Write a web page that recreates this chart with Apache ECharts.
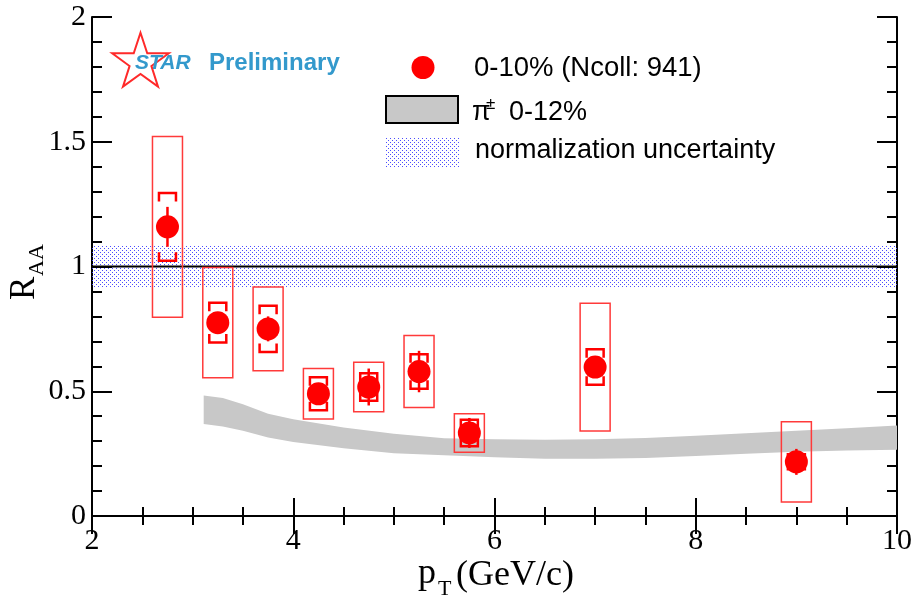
<!DOCTYPE html>
<html>
<head>
<meta charset="utf-8">
<title>RAA vs pT</title>
<script src="https://cdn.jsdelivr.net/npm/echarts@6.0.0/dist/echarts.min.js"></script>
<style>
  html, body { margin: 0; padding: 0; background: #ffffff; }
  #chart { width: 920px; height: 601px; }
</style>
</head>
<body>
<div id="chart"></div>
<script>
// Axis ticks
const xTicks = [2, 4, 6, 8, 10];
const yTicks = [0, 0.5, 1, 1.5, 2];

// 0-10% central collisions: R_AA per pT bin
const pt      = [2.75, 3.25, 3.75, 4.25, 4.75, 5.25, 5.75, 7.0, 9.0];
const raa     = [1.159, 0.775, 0.750, 0.490, 0.517, 0.579, 0.333, 0.597, 0.217];
const statErr = [0.080, 0.040, 0.050, 0.040, 0.074, 0.083, 0.060, 0.040, 0.052];
const sysErr  = [0.136, 0.080, 0.093, 0.066, 0.055, 0.069, 0.053, 0.071, 0.030];
const boxErr  = [0.362, 0.221, 0.168, 0.101, 0.099, 0.144, 0.077, 0.256, 0.161];

// Charged pion band, 0-12%
const pionPt   = [3.11, 3.3, 3.5, 3.75, 4.0, 4.5, 5.0, 5.5, 6.0, 6.5, 7.0, 7.5, 8.0, 8.5, 9.0, 9.5, 10.0];
const pionHigh = [0.483, 0.473, 0.448, 0.410, 0.388, 0.355, 0.330, 0.312, 0.308, 0.306, 0.308, 0.313, 0.322, 0.332, 0.342, 0.352, 0.363];
const pionLow  = [0.369, 0.359, 0.342, 0.315, 0.297, 0.272, 0.252, 0.243, 0.235, 0.229, 0.229, 0.232, 0.240, 0.250, 0.258, 0.263, 0.266];

// Normalization uncertainty around unity
const normLow  = 0.915;
const normHigh = 1.082;
const unity    = 1;

// Dotted fill used for the normalization band
function dotPattern() {
  const c = document.createElement('canvas');
  c.width = 4; c.height = 4;
  const g = c.getContext('2d');
  g.fillStyle = '#4c4cff';
  g.fillRect(0, 0, 1, 1);
  g.fillRect(2, 2, 1, 1);
  return { image: c, repeat: 'repeat' };
}
const dots = dotPattern();

const RED = '#ff0000';
const BOX_RED = '#ff3a3a';
const SERIF = '"Liberation Serif", "Times New Roman", serif';
const SANS = '"Liberation Sans", Arial, sans-serif';

const chart = echarts.init(document.getElementById('chart'), null, { renderer: 'canvas' });

const axisCommon = {
  axisLine: { show: true, lineStyle: { color: '#000', width: 2 } },
  splitLine: { show: false },
  minorSplitLine: { show: false }
};

function xAxisDef(pos, labels) {
  return Object.assign({
    type: 'value', position: pos,
    min: xTicks[0], max: xTicks[xTicks.length - 1], interval: xTicks[1] - xTicks[0],
    axisTick: { show: true, inside: true, length: 18, lineStyle: { color: '#000', width: 2 } },
    minorTick: { show: true, splitNumber: 4, length: 9, lineStyle: { color: '#000', width: 2 } },
    axisLabel: { show: labels, margin: 10, color: '#000', fontFamily: SERIF, fontSize: 30 }
  }, axisCommon);
}
function yAxisDef(pos, labels) {
  return Object.assign({
    type: 'value', position: pos,
    min: yTicks[0], max: yTicks[yTicks.length - 1], interval: yTicks[1] - yTicks[0],
    axisTick: { show: true, inside: true, length: 20, lineStyle: { color: '#000', width: 2 } },
    minorTick: { show: true, splitNumber: 5, length: 10, lineStyle: { color: '#000', width: 2 } },
    axisLabel: { show: labels, margin: 6, color: '#000', fontFamily: SERIF, fontSize: 30 }
  }, axisCommon);
}

// Five-pointed outline star for the logo
function starPoints(cx, cy, rOut, rIn) {
  const pts = [];
  for (let k = 0; k < 10; k++) {
    const r = k % 2 === 0 ? rOut : rIn;
    const a = -Math.PI / 2 + k * Math.PI / 5;
    pts.push([cx + r * Math.cos(a), cy + r * Math.sin(a)]);
  }
  return pts;
}

const option = {
  animation: false,
  backgroundColor: '#ffffff',
  grid: { left: 92, top: 17, right: 23, bottom: 85, outerBoundsMode: 'none' },
  xAxis: [xAxisDef('bottom', true), xAxisDef('top', false)],
  yAxis: [yAxisDef('left', true), yAxisDef('right', false)],
  series: [
    {
      // normalization band
      type: 'custom', name: 'normalization uncertainty', z: 1, clip: true,
      data: [[xTicks[0], normLow, xTicks[xTicks.length - 1], normHigh]],
      renderItem: function (params, api) {
        const p0 = api.coord([api.value(0), api.value(3)]);
        const p1 = api.coord([api.value(2), api.value(1)]);
        return {
          type: 'rect',
          shape: { x: p0[0], y: p0[1], width: p1[0] - p0[0], height: p1[1] - p0[1] },
          style: { fill: dots }
        };
      }
    },
    {
      // line at unity
      type: 'custom', name: 'unity', z: 2, clip: true,
      data: [[xTicks[0], unity, xTicks[xTicks.length - 1]]],
      renderItem: function (params, api) {
        const a = api.coord([api.value(0), api.value(1)]);
        const b = api.coord([api.value(2), api.value(1)]);
        return {
          type: 'line',
          shape: { x1: a[0], y1: a[1], x2: b[0], y2: b[1] },
          style: { stroke: '#000', lineWidth: 2 }
        };
      }
    },
    {
      // pion band
      type: 'custom', name: 'π± 0-12%', z: 3, clip: true,
      data: pionPt.map((x, i) => [x, pionLow[i], pionHigh[i]]),
      renderItem: function (params, api) {
        if (params.dataIndex !== 0) return null;
        const pts = [];
        for (let i = 0; i < pionPt.length; i++) pts.push(api.coord([pionPt[i], pionHigh[i]]));
        for (let i = pionPt.length - 1; i >= 0; i--) pts.push(api.coord([pionPt[i], pionLow[i]]));
        return { type: 'polygon', shape: { points: pts }, style: { fill: '#c8c8c8' } };
      }
    },
    {
      // uncertainty boxes, brackets and statistical bars
      type: 'custom', name: 'errors', z: 4, clip: true,
      data: pt.map((x, i) => [x, raa[i], statErr[i], sysErr[i], boxErr[i]]),
      renderItem: function (params, api) {
        const x = api.value(0), y = api.value(1);
        const st = api.value(2), sy = api.value(3), bx = api.value(4);
        const c = api.coord([x, y]);
        const bTop = api.coord([x, y + bx])[1];
        const bBot = api.coord([x, y - bx])[1];
        const sTop = api.coord([x, y + sy])[1];
        const sBot = api.coord([x, y - sy])[1];
        const tTop = api.coord([x, y + st])[1];
        const tBot = api.coord([x, y - st])[1];
        const hw = 15, bw = 8.5, leg = 8.5;
        return {
          type: 'group',
          children: [
            { type: 'rect', shape: { x: c[0] - hw, y: bTop, width: 2 * hw, height: bBot - bTop },
              style: { fill: 'none', stroke: BOX_RED, lineWidth: 1.5 } },
            { type: 'line', shape: { x1: c[0], y1: tTop, x2: c[0], y2: tBot },
              style: { stroke: RED, lineWidth: 2.5 } },
            { type: 'polyline', shape: { points: [[c[0] - bw, sTop + leg], [c[0] - bw, sTop], [c[0] + bw, sTop], [c[0] + bw, sTop + leg]] },
              style: { fill: 'none', stroke: RED, lineWidth: 2.5 } },
            { type: 'polyline', shape: { points: [[c[0] - bw, sBot - leg], [c[0] - bw, sBot], [c[0] + bw, sBot], [c[0] + bw, sBot - leg]] },
              style: { fill: 'none', stroke: RED, lineWidth: 2.5 } }
          ]
        };
      }
    },
    {
      type: 'scatter', name: '0-10% (Ncoll: 941)', z: 5,
      symbol: 'circle', symbolSize: 23,
      itemStyle: { color: RED, opacity: 1 },
      data: pt.map((x, i) => [x, raa[i]])
    }
  ],
  graphic: [
    // logo
    { type: 'polygon', shape: { points: starPoints(140.5, 62.5, 29.8, 11.5) },
      style: { fill: 'none', stroke: '#ff2a2a', lineWidth: 2 }, z: 10 },
    { type: 'text', x: 135, y: 63, z: 11,
      style: { text: 'STAR', fill: '#3399cc', font: 'italic bold 21px ' + SANS, verticalAlign: 'middle' } },
    { type: 'text', x: 209, y: 63, z: 11,
      style: { text: 'Preliminary', fill: '#3399cc', font: 'bold 24px ' + SANS, verticalAlign: 'middle' } },

    // legend
    { type: 'circle', shape: { cx: 423, cy: 67.5, r: 11.5 }, style: { fill: RED }, z: 10 },
    { type: 'text', x: 474, y: 68, z: 10,
      style: { text: '0-10% (Ncoll: 941)', fill: '#000', font: '27.5px ' + SANS, verticalAlign: 'middle' } },
    { type: 'rect', shape: { x: 386, y: 96, width: 72, height: 27 },
      style: { fill: '#c8c8c8', stroke: '#000', lineWidth: 2 }, z: 10 },
    { type: 'text', x: 472, y: 113, z: 10,
      style: { text: 'π', fill: '#000', font: '27px ' + SANS, verticalAlign: 'middle' } },
    { type: 'text', x: 486, y: 104, z: 10,
      style: { text: '±', fill: '#000', font: '17px ' + SANS, verticalAlign: 'middle' } },
    { type: 'text', x: 509, y: 113, z: 10,
      style: { text: '0-12%', fill: '#000', font: '27px ' + SANS, verticalAlign: 'middle' } },
    { type: 'rect', shape: { x: 386, y: 137, width: 73, height: 30 },
      style: { fill: dots }, z: 10 },
    { type: 'text', x: 475, y: 151, z: 10,
      style: { text: 'normalization uncertainty', fill: '#000', font: '27px ' + SANS, verticalAlign: 'middle' } },

    // x axis title
    { type: 'text', x: 418, y: 574, z: 10,
      style: { text: 'p', fill: '#000', font: '36px ' + SERIF, verticalAlign: 'middle' } },
    { type: 'text', x: 438, y: 589, z: 10,
      style: { text: 'T', fill: '#000', font: '22px ' + SERIF, verticalAlign: 'middle' } },
    { type: 'text', x: 456, y: 576, z: 10,
      style: { text: '(GeV/c)', fill: '#000', font: '36px ' + SERIF, verticalAlign: 'middle' } },

    // y axis title (reads bottom to top)
    { type: 'group', x: 25, y: 300, rotation: Math.PI / 2, z: 10,
      children: [
        { type: 'text', x: 0, y: 0,
          style: { text: 'R', fill: '#000', font: '35px ' + SERIF, verticalAlign: 'middle' } },
        { type: 'text', x: 24, y: 12,
          style: { text: 'AA', fill: '#000', font: '22px ' + SERIF, verticalAlign: 'middle' } }
      ] }
  ]
};

chart.setOption(option);
</script>
</body>
</html>
